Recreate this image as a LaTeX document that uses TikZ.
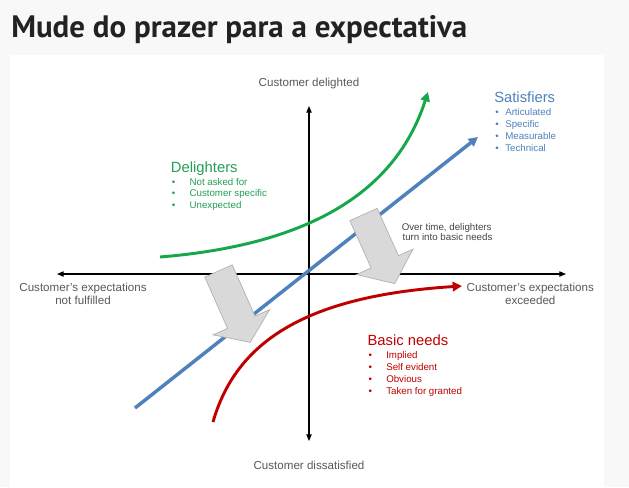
\documentclass[tikz,border=0pt]{standalone}
\usepackage{fontspec}
\usepackage{graphicx}
\setmainfont{Liberation Sans}
\newfontfamily\titlefont{PT Sans}
\usetikzlibrary{arrows.meta,calc}
\definecolor{pagebg}{HTML}{F8F8F8}
\definecolor{titlec}{HTML}{222222}
\definecolor{axtext}{HTML}{595959}
\definecolor{notetext}{HTML}{454545}
\definecolor{grn}{HTML}{14A84B}
\definecolor{grntext}{HTML}{23A055}
\definecolor{blu}{HTML}{4F81BD}
\definecolor{red1}{HTML}{C00000}
\definecolor{arrfill}{HTML}{D9D9D9}
\definecolor{arredge}{HTML}{B0B0B0}
\newcommand\blkarrow[7]{%
 \filldraw[blk]
 ({#1+15*#4},{#2-15*#3}) --
 ({#1+(#5-#6)*#3+15*#4},{#2+(#5-#6)*#4-15*#3}) --
 ({#1+(#5-#6)*#3+#7*#4},{#2+(#5-#6)*#4-#7*#3}) --
 ({#1+#5*#3},{#2+#5*#4}) --
 ({#1+(#5-#6)*#3-#7*#4},{#2+(#5-#6)*#4+#7*#3}) --
 ({#1+(#5-#6)*#3-15*#4},{#2+(#5-#6)*#4+15*#3}) --
 ({#1-15*#4},{#2+15*#3}) -- cycle;}
\tikzset{
 axis/.style={line width=0.8pt, black, {Triangle[length=5pt,width=4pt]}-{Triangle[length=5pt,width=4pt]}},
 curve/.style={line width=2.2pt, -{Triangle[length=7pt,width=7pt]}},
 blk/.style={fill=arrfill, draw=arredge, line width=0.5pt, line join=miter},
 axlabel/.style={text=axtext, font=\fontsize{8.7}{9.5}\selectfont, inner sep=0, anchor=base},
 ltitle/.style={font=\fontsize{11.1}{13}\selectfont, inner sep=0, anchor=base west},
 item/.style={font=\fontsize{7.3}{9}\selectfont, inner sep=0, anchor=base west},
 note/.style={text=notetext, font=\fontsize{7.3}{9}\selectfont, inner sep=0, anchor=base},
}
\newcommand\bul[1]{\llap{\makebox[#1][l]{•}}}
\begin{document}
\begin{tikzpicture}[x=0.75pt,y=-0.75pt]
\useasboundingbox (0,0) rectangle (629,487);
\fill[pagebg] (0,0) rectangle (629,487);
\fill[white] (10,55) rectangle (604,487);
\node[anchor=base west, inner sep=0, text=titlec] (title) at (11,37)
 {\resizebox{342pt}{!}{\titlefont\bfseries Mude do prazer para a expectativa}};

% axes
\coordinate (xl) at (57,274);
\coordinate (xr) at (566,274);
\coordinate (yt) at (309,106);
\coordinate (yb) at (309,441);
\draw[axis] (xl) -- (xr);
\draw[axis] (yb) -- (yt);

% curves
\coordinate (bs) at (135,408);
\coordinate (be) at (478,137);
\draw[curve, blu, line width=2.6pt] (bs) -- (be);
\coordinate (gs) at (160,257);
\coordinate (ge) at (428,92);
\draw[curve, grn] (gs) .. controls (320,244) and (398,185) .. (ge);
\coordinate (rs) at (213,422);
\coordinate (re) at (462,286);
\draw[curve, red1] (rs) .. controls (236,342) and (305,296) .. (re);

% block arrows
\blkarrow{363.5}{214.5}{0.41}{0.91}{76}{24}{31}
\blkarrow{218.5}{271}{0.407}{0.915}{78}{22}{31}

% axis labels
\node[axlabel] (top) at (309,86) {Customer delighted};
\node[axlabel] (bot) at (309,469.3) {Customer dissatisfied};
\node[axlabel] (lf1) at (83,291.7) {Customer’s expectations};
\node[axlabel] (lf2) at (83,304.3) {not fulfilled};
\node[axlabel] (rt1) at (530.3,291.7) {Customer’s expectations};
\node[axlabel] (rt2) at (530.3,304.3) {exceeded};

% note
\node[note] (n1) at (446.7,230) {Over time, delighters};
\node[note] (n2) at (447.5,240.7) {turn into basic needs};

% Delighters
\node[ltitle, text=grntext] (dt) at (170.7,172.3) {Delighters};
\node[item, text=grntext] (d1) at (189.3,185) {\bul{13.2pt}Not asked for};
\node[item, text=grntext] (d2) at (189.3,196.7) {\bul{13.2pt}Customer specific};
\node[item, text=grntext] (d3) at (189.3,208.4) {\bul{13.2pt}Unexpected};

% Satisfiers
\node[ltitle, text=blu] (st) at (494,102.7) {Satisfiers};
\node[item, text=blu] (s1) at (505,115.7) {\bul{7.5pt}Articulated};
\node[item, text=blu] (s2) at (505,127.6) {\bul{7.5pt}Specific};
\node[item, text=blu] (s3) at (505,139.5) {\bul{7.5pt}Measurable};
\node[item, text=blu] (s4) at (505,151.4) {\bul{7.5pt}Technical};

% Basic needs
\node[ltitle, text=red1] (bt) at (367.3,345.7) {Basic needs};
\node[item, text=red1] (b1) at (386,358.3) {\bul{13.3pt}Implied};
\node[item, text=red1] (b2) at (386,370.2) {\bul{13.3pt}Self evident};
\node[item, text=red1] (b3) at (386,382.1) {\bul{13.3pt}Obvious};
\node[item, text=red1] (b4) at (386,394) {\bul{13.3pt}Taken for granted};
\end{tikzpicture}
\end{document}
